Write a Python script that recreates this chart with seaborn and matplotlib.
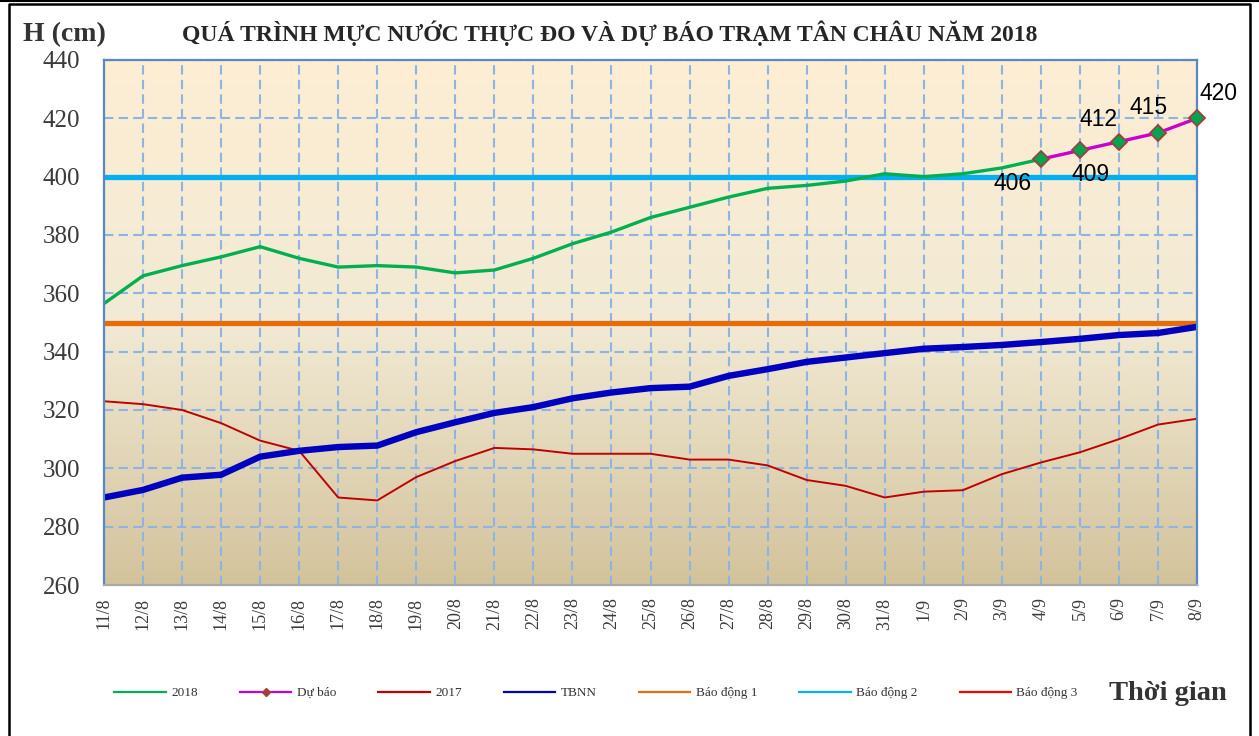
import numpy as np
import pandas as pd
import matplotlib
matplotlib.use("Agg")
import matplotlib.pyplot as plt
from matplotlib.lines import Line2D
from matplotlib.colors import LinearSegmentedColormap
import seaborn as sns

plt.rcParams['font.family'] = ['Liberation Serif', 'DejaVu Serif']

# ---------------- data ----------------
days = ['11/8', '12/8', '13/8', '14/8', '15/8', '16/8', '17/8', '18/8', '19/8', '20/8',
        '21/8', '22/8', '23/8', '24/8', '25/8', '26/8', '27/8', '28/8', '29/8', '30/8',
        '31/8', '1/9', '2/9', '3/9', '4/9', '5/9', '6/9', '7/9', '8/9']
h2018 = [356.5, 366, 369.5, 372.5, 376, 372, 369, 369.5, 369, 367, 368, 372, 377, 381,
         386, 389.5, 393, 396, 397, 398.5, 401, 400, 401, 403, 406]
du_bao_days = ['4/9', '5/9', '6/9', '7/9', '8/9']
du_bao = [406, 409, 412, 415, 420]
h2017 = [323, 322, 320, 315.5, 309.5, 306, 290, 289, 297, 302.5, 307, 306.5, 305, 305,
         305, 303, 303, 301, 296, 294, 290, 292, 292.5, 298, 302, 305.5, 310, 315, 317]
tbnn = [290, 292.6, 296.8, 297.8, 304, 306, 307.3, 307.8, 312.4, 315.8, 319, 321, 324,
        326, 327.5, 328, 331.7, 334, 336.5, 338, 339.5, 341, 341.6, 342.3, 343.3, 344.4,
        345.7, 346.4, 348.5]
bao_dong = {'Báo động 1': 350, 'Báo động 2': 400, 'Báo động 3': 450}
y_ticks = [260, 280, 300, 320, 340, 360, 380, 400, 420, 440]

# ---------------- figure ----------------
W, H = 1259, 736
fig = plt.figure(figsize=(W / 100, H / 100), dpi=100)
fig.patch.set_facecolor('white')
L, R, T, B = 104, 1197, 60, 585
ax = fig.add_axes([L / W, 1 - B / H, (R - L) / W, (B - T) / H])

pos = {d: i for i, d in enumerate(days)}

# background gradient
cmap = LinearSegmentedColormap.from_list('bg', ['#D3C39C', '#F2EAD5', '#FDEED3'])
grad = np.linspace(0, 1, 256).reshape(-1, 1)
ax.imshow(grad, extent=[0, 1, 0, 1], transform=ax.transAxes, aspect='auto',
          cmap=cmap, origin='lower', zorder=0)

# grid
grid_kw = dict(color='#8DB4E2', linewidth=1.5, linestyle=(0, (4.5, 2.5)), zorder=1)
for i in range(len(days)):
    ax.axvline(i, **grid_kw)
for yv in y_ticks:
    ax.axhline(yv, **grid_kw)

alarm_colors = {'Báo động 1': '#E46C0A', 'Báo động 2': '#00B0F0', 'Báo động 3': '#FF0000'}
for name, v in bao_dong.items():
    ax.axhline(v, color=alarm_colors[name], linewidth=3.8, zorder=2)

df2018 = pd.DataFrame({'x': [pos[d] for d in days[:len(h2018)]], 'y': h2018})
df2017 = pd.DataFrame({'x': [pos[d] for d in days], 'y': h2017})
dftb = pd.DataFrame({'x': [pos[d] for d in days], 'y': tbnn})
dfdb = pd.DataFrame({'x': [pos[d] for d in du_bao_days], 'y': du_bao})

sns.lineplot(data=df2017, x='x', y='y', ax=ax, color='#C00000', linewidth=1.4, zorder=3)
sns.lineplot(data=dftb, x='x', y='y', ax=ax, color='#0000BF', linewidth=4.6, zorder=3)
sns.lineplot(data=df2018, x='x', y='y', ax=ax, color='#00B050', linewidth=2.4, zorder=4)
sns.lineplot(data=dfdb, x='x', y='y', ax=ax, color='#CC00CC', linewidth=2.4, zorder=8,
             marker='D', markersize=8.5, markerfacecolor='#00A550',
             markeredgecolor='#A0403C', markeredgewidth=1.3, clip_on=False)

# data labels
offsets = [(-28, -24), (11, -24), (-20, 22), (-9, 25), (21, 25)]
for d, v, off in zip(du_bao_days, du_bao, offsets):
    ax.annotate(f'{v:g}', (pos[d], v), xytext=off, textcoords='offset pixels',
                ha='center', va='center', fontsize=16.5, family='Liberation Sans',
                color='black', zorder=9, annotation_clip=False)

ax.set_xlim(0, len(days) - 1)
ax.set_ylim(260, 440)
ax.set_yticks(y_ticks)
ax.set_xticks(range(len(days)))
ax.set_xticklabels(days, rotation=90)
ax.set_xlabel('')
ax.set_ylabel('')
ax.tick_params(axis='y', length=0, pad=17, labelsize=18, labelcolor='#3A3A3A')
ax.tick_params(axis='x', length=0, pad=9, labelsize=13, labelcolor='#3A3A3A')
for s in ['left', 'top', 'right']:
    ax.spines[s].set_color('#5A88C6')
    ax.spines[s].set_linewidth(1.6)
ax.spines['bottom'].set_color('#A8A8A8')
ax.spines['bottom'].set_linewidth(1.6)
for s in ax.spines.values():
    s.set_zorder(7)

# titles
fig.text(23 / W, 1 - 35 / H, 'H (cm)', ha='left', va='center', fontsize=20,
         fontweight='bold', color='#333333')
fig.text(610 / W, 1 - 33 / H,
         'QUÁ TRÌNH MỰC NƯỚC THỰC ĐO VÀ DỰ BÁO TRẠM TÂN CHÂU NĂM 2018',
         ha='center', va='center', fontsize=17, fontweight='bold', color='#262626')
fig.text(1168 / W, 1 - 693 / H, 'Thời gian', ha='center', va='center', fontsize=20.5,
         fontweight='bold', color='#333333')

# legend
handles = [
    Line2D([], [], color='#00B050', linewidth=1.6),
    Line2D([], [], color='#CC00CC', linewidth=1.6, marker='D', markersize=4,
           markerfacecolor='#A0403C', markeredgecolor='#A0403C'),
    Line2D([], [], color='#C00000', linewidth=1.6),
    Line2D([], [], color='#0000BF', linewidth=1.6),
    Line2D([], [], color='#E46C0A', linewidth=1.6),
    Line2D([], [], color='#00B0F0', linewidth=1.6),
    Line2D([], [], color='#FF0000', linewidth=1.6),
]
labels = ['2018', 'Dự báo', '2017', 'TBNN', 'Báo động 1', 'Báo động 2', 'Báo động 3']
leg = fig.legend(handles, labels, loc='center', bbox_to_anchor=(596 / W, 1 - 693 / H),
                 ncol=7, frameon=False, fontsize=9.5, handlelength=3.9,
                 handletextpad=0.4, columnspacing=3.2, labelcolor='#333333')

# page frame
fig.add_artist(Line2D([0, 1], [1 - 1 / H, 1 - 1 / H], transform=fig.transFigure,
                      color='black', linewidth=1.5))
fig.add_artist(Line2D([9 / W, 9 / W, 1250 / W, 1250 / W], [0, 1 - 4 / H, 1 - 4 / H, 0],
                      transform=fig.transFigure, color='black', linewidth=1.8))

fig.savefig('out.png', dpi=100)
